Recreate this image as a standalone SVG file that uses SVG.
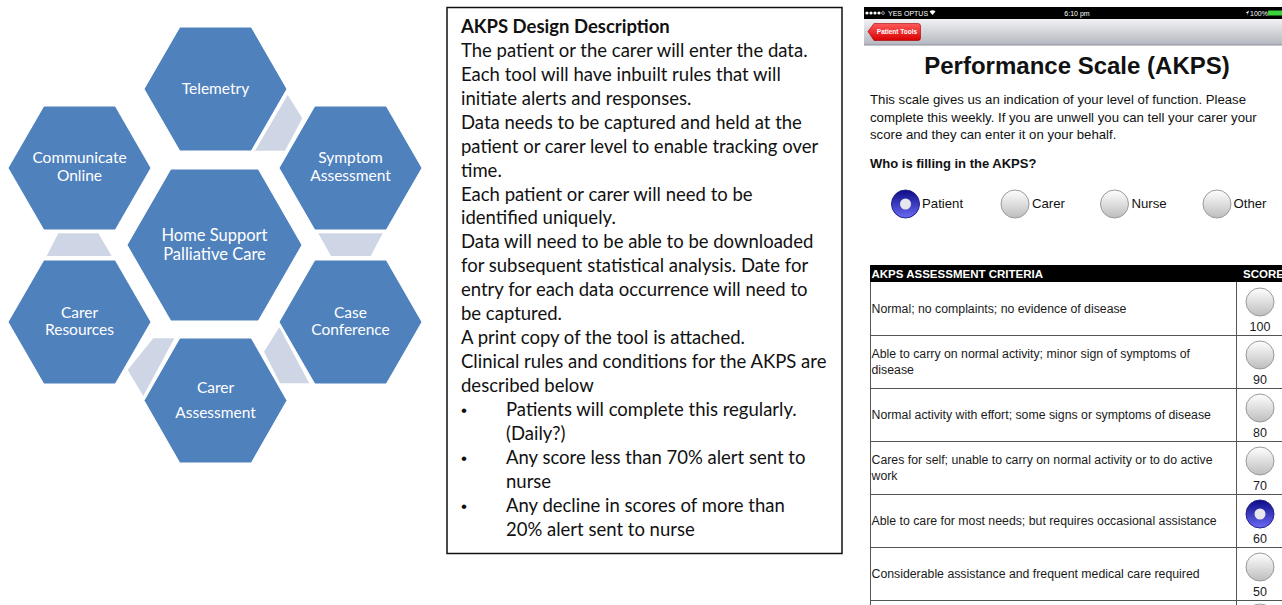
<svg xmlns="http://www.w3.org/2000/svg" width="1282" height="605" viewBox="0 0 1282 605">
<defs>
<style>
.hex{fill:#4F81BD;stroke:#ffffff;stroke-width:1}
.gap{fill:#CED6E6}
.hl{font-family:Lato,"Liberation Sans",sans-serif;font-size:15.5px;fill:#ffffff;text-anchor:middle}
.hc{font-family:Lato,"Liberation Sans",sans-serif;font-size:16.5px;fill:#ffffff;text-anchor:middle}
.box{font-family:Lato,"Liberation Sans",sans-serif;font-size:18.5px;fill:#111111}
.bul{font-family:"Liberation Sans",Arial,sans-serif;font-size:17px;fill:#111111}
.ph{font-family:"Liberation Sans",Arial,sans-serif;fill:#111111}
.row{font-family:"Liberation Sans",Arial,sans-serif;font-size:12.3px;fill:#1a1a1a}
.num{font-family:"Liberation Sans",Arial,sans-serif;font-size:12.5px;fill:#1a1a1a;text-anchor:middle}
.sb{font-family:"Liberation Sans",Arial,sans-serif;font-size:7px;fill:#ffffff}
.tl{stroke:#555555;stroke-width:1;fill:none}
</style>
<linearGradient id="rg" x1="0" y1="0" x2="0" y2="1">
<stop offset="0" stop-color="#ffffff"/>
<stop offset="1" stop-color="#bdbdbd"/>
</linearGradient>
<linearGradient id="bg" x1="0" y1="0" x2="0" y2="1">
<stop offset="0" stop-color="#0c0c86"/>
<stop offset="1" stop-color="#6a6af5"/>
</linearGradient>
<linearGradient id="nav" x1="0" y1="0" x2="0" y2="1">
<stop offset="0" stop-color="#f2f2f4"/>
<stop offset="1" stop-color="#b4b7c0"/>
</linearGradient>
<linearGradient id="red" x1="0" y1="0" x2="0" y2="1">
<stop offset="0" stop-color="#ff5a5a"/>
<stop offset="1" stop-color="#d80000"/>
</linearGradient>
<g id="radio"><circle r="14" fill="url(#rg)" stroke="#9a9a9a" stroke-width="1"/></g>
<g id="radioSel"><circle r="14" fill="url(#bg)" stroke="#23238a" stroke-width="1"/><circle r="5.5" fill="#e6e6ec"/></g>
</defs>
<rect width="1282" height="605" fill="#ffffff"/>

<!-- connectors between hexagons -->
<g id="connectors">
<polygon class="gap" points="287.7,95 302.3,118.3 285,150.7 255,150.7"/>
<polygon class="gap" points="318.3,233.3 382.7,233.3 370.7,256 331,256"/>
<polygon class="gap" points="279.3,327.3 264,351.7 280,383.3 309.3,383.3"/>
<polygon class="gap" points="153.3,338.3 174.3,338.3 143.3,396 127.7,370"/>
<polygon class="gap" points="58.3,233.3 98.3,233.3 111.7,256 46.7,256"/>
</g>

<g id="telemetry">
<polygon class="hex" points="144,89 179.8,27 251.3,27 287,89 251.3,151 179.8,151"/>
<text class="hl" x="215.5" y="94">Telemetry</text>
</g>
<g id="communicate">
<polygon class="hex" points="8,168 43.8,106 115.3,106 151,168 115.3,230 43.8,230"/>
<text class="hl" x="79.5" y="163">Communicate</text>
<text class="hl" x="79.5" y="181">Online</text>
</g>
<g id="symptom">
<polygon class="hex" points="279,168 314.8,106 386.3,106 422,168 386.3,230 314.8,230"/>
<text class="hl" x="350.5" y="163">Symptom</text>
<text class="hl" x="350.5" y="181">Assessment</text>
</g>
<g id="center">
<polygon class="hex" points="127,245 170.8,169 258.3,169 302,245 258.3,321 170.8,321"/>
<text class="hc" x="214.5" y="241">Home Support</text>
<text class="hc" x="214.5" y="260">Palliative Care</text>
</g>
<g id="carer-resources">
<polygon class="hex" points="8,322 43.8,260 115.3,260 151,322 115.3,384 43.8,384"/>
<text class="hl" x="79.5" y="318">Carer</text>
<text class="hl" x="79.5" y="335">Resources</text>
</g>
<g id="case-conference">
<polygon class="hex" points="279,322 314.8,260 386.3,260 422,322 386.3,384 314.8,384"/>
<text class="hl" x="350.5" y="318">Case</text>
<text class="hl" x="350.5" y="335">Conference</text>
</g>
<g id="carer-assessment">
<polygon class="hex" points="144,400.5 179.8,338 251.3,338 287,400.5 251.3,463 179.8,463"/>
<text class="hl" x="215.5" y="393">Carer</text>
<text class="hl" x="215.5" y="418">Assessment</text>
</g>

<!-- description box -->
<g id="description">
<rect x="447" y="7.5" width="395" height="546" fill="#ffffff" stroke="#111111" stroke-width="1.5"/>
<text class="box" x="461" y="33" font-weight="bold">AKPS Design Description</text>
<text class="box" x="461" y="57">The patient or the carer will enter the data.</text>
<text class="box" x="461" y="81">Each tool will have inbuilt rules that will</text>
<text class="box" x="461" y="105">initiate alerts and responses.</text>
<text class="box" x="461" y="129">Data needs to be captured and held at the</text>
<text class="box" x="461" y="153">patient or carer level to enable tracking over</text>
<text class="box" x="461" y="177">time.</text>
<text class="box" x="461" y="201">Each patient or carer will need to be</text>
<text class="box" x="461" y="224">identified uniquely.</text>
<text class="box" x="461" y="248">Data will need to be able to be downloaded</text>
<text class="box" x="461" y="272">for subsequent statistical analysis. Date for</text>
<text class="box" x="461" y="296">entry for each data occurrence will need to</text>
<text class="box" x="461" y="320">be captured.</text>
<text class="box" x="461" y="344">A print copy of the tool is attached.</text>
<text class="box" x="461" y="368">Clinical rules and conditions for the AKPS are</text>
<text class="box" x="461" y="392">described below</text>
<text class="bul" x="461" y="416">•</text>
<text class="box" x="506" y="416">Patients will complete this regularly.</text>
<text class="box" x="506" y="440">(Daily?)</text>
<text class="bul" x="461" y="464">•</text>
<text class="box" x="506" y="464">Any score less than 70% alert sent to</text>
<text class="box" x="506" y="488">nurse</text>
<text class="bul" x="461" y="512">•</text>
<text class="box" x="506" y="512">Any decline in scores of more than</text>
<text class="box" x="506" y="536">20% alert sent to nurse</text>
</g>

<!-- phone screenshot -->
<g id="status-bar">
<rect x="864" y="7" width="418" height="12" fill="#000000"/>
<circle cx="867" cy="13" r="1.6" fill="#ffffff"/>
<circle cx="871" cy="13" r="1.6" fill="#ffffff"/>
<circle cx="875" cy="13" r="1.6" fill="#ffffff"/>
<circle cx="879" cy="13" r="1.6" fill="#ffffff"/>
<circle cx="883" cy="13" r="1.4" fill="none" stroke="#ffffff" stroke-width="0.6"/>
<text class="sb" x="888" y="15.5">YES OPTUS</text>
<path d="M929.5,11.5 Q932.5,9 935.5,11.5 L932.5,15 Z" fill="#ffffff"/>
<text class="sb" x="1077" y="15.5" text-anchor="middle">6:10 pm</text>
<path d="M1249,10.5 L1245.5,13 L1247.5,13 L1247.5,15.5 Z" fill="#ffffff"/>
<text class="sb" x="1250" y="15.5">100%</text>
<rect x="1268" y="10.5" width="14" height="5" fill="#3ad13a"/>
</g>
<g id="nav-bar">
<rect x="864" y="19" width="418" height="26" fill="url(#nav)"/>
<line x1="864" y1="45" x2="1282" y2="45" stroke="#8c9099" stroke-width="1"/>
<path d="M868,31.5 L874,23.5 L918,23.5 Q920.5,23.5 920.5,26 L920.5,38 Q920.5,40.5 918,40.5 L874,40.5 Z" fill="url(#red)" stroke="#a00000" stroke-width="0.6"/>
<text x="897" y="34" font-family="'Liberation Sans',Arial,sans-serif" font-size="6.5" font-weight="bold" fill="#ffffff" text-anchor="middle">Patient Tools</text>
</g>
<g id="intro">
<text class="ph" x="1077" y="74" font-size="24" font-weight="bold" text-anchor="middle">Performance Scale (AKPS)</text>
<text class="ph" x="870" y="104" font-size="13.2">This scale gives us an indication of your level of function. Please</text>
<text class="ph" x="870" y="122" font-size="13.2">complete this weekly. If you are unwell you can tell your carer your</text>
<text class="ph" x="870" y="139" font-size="13.2">score and they can enter it on your behalf.</text>
<text class="ph" x="870" y="168" font-size="13" font-weight="bold">Who is filling in the AKPS?</text>
</g>
<g id="who-options">
<use href="#radioSel" x="905.5" y="204"/>
<text class="ph" x="922" y="208" font-size="13.2">Patient</text>
<use href="#radio" x="1015" y="204"/>
<text class="ph" x="1032" y="208" font-size="13.2">Carer</text>
<use href="#radio" x="1114.5" y="204"/>
<text class="ph" x="1131.5" y="208" font-size="13.2">Nurse</text>
<use href="#radio" x="1217" y="204"/>
<text class="ph" x="1233.5" y="208" font-size="13.2">Other</text>
</g>
<g id="criteria-table">
<rect x="870" y="265" width="412" height="17" fill="#000000"/>
<text x="871.5" y="278" font-family="'Liberation Sans',Arial,sans-serif" font-size="11.5" font-weight="bold" fill="#ffffff">AKPS ASSESSMENT CRITERIA</text>
<text x="1243" y="278" font-family="'Liberation Sans',Arial,sans-serif" font-size="11.5" font-weight="bold" fill="#ffffff">SCORE</text>
<line class="tl" x1="870.5" y1="282" x2="870.5" y2="605"/>
<line class="tl" x1="1236.5" y1="282" x2="1236.5" y2="605"/>
<line class="tl" x1="870" y1="335.5" x2="1282" y2="335.5"/>
<line class="tl" x1="870" y1="388.5" x2="1282" y2="388.5"/>
<line class="tl" x1="870" y1="441.5" x2="1282" y2="441.5"/>
<line class="tl" x1="870" y1="494.5" x2="1282" y2="494.5"/>
<line class="tl" x1="870" y1="547.5" x2="1282" y2="547.5"/>
<line class="tl" x1="870" y1="600.5" x2="1282" y2="600.5"/>
<text class="row" x="871.5" y="313">Normal; no complaints; no evidence of disease</text>
<text class="row" x="871.5" y="358">Able to carry on normal activity; minor sign of symptoms of</text>
<text class="row" x="871.5" y="374">disease</text>
<text class="row" x="871.5" y="419">Normal activity with effort; some signs or symptoms of disease</text>
<text class="row" x="871.5" y="464">Cares for self; unable to carry on normal activity or to do active</text>
<text class="row" x="871.5" y="480">work</text>
<text class="row" x="871.5" y="525">Able to care for most needs; but requires occasional assistance</text>
<text class="row" x="871.5" y="578">Considerable assistance and frequent medical care required</text>
<use href="#radio" x="1260" y="302"/>
<text class="num" x="1260" y="331">100</text>
<use href="#radio" x="1260" y="355"/>
<text class="num" x="1260" y="384">90</text>
<use href="#radio" x="1260" y="408"/>
<text class="num" x="1260" y="437">80</text>
<use href="#radio" x="1260" y="461"/>
<text class="num" x="1260" y="490">70</text>
<use href="#radioSel" x="1260" y="514"/>
<text class="num" x="1260" y="543">60</text>
<use href="#radio" x="1260" y="567"/>
<text class="num" x="1260" y="596">50</text>
<use href="#radio" x="1260" y="618"/>
</g>
</svg>
